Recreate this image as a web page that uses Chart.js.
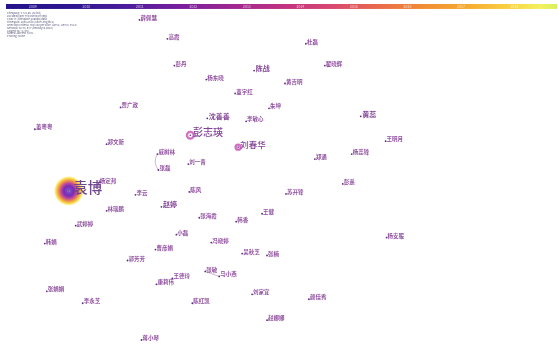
<!DOCTYPE html>
<html>
<head>
<meta charset="utf-8">
<script src="https://cdn.jsdelivr.net/npm/chart.js@4/dist/chart.umd.min.js"></script>
<style>
  html, body { margin: 0; padding: 0; background: #ffffff; }
  #wrap { width: 558px; height: 345px; position: relative; }
  canvas { display: block; }
</style>
</head>
<body>
<div id="wrap"><canvas id="net" width="558" height="345"></canvas></div>
<script>
// Co-authorship network: author names, layout positions and publication counts
const authors = ['薛佩慧','高霞','杜磊','彭丹','陈战','翟晓辉','杨东晓','黄吉明','董宇红','朱坤',
  '贾广政','沈善善','李敏心','黄蕊','王明月','董粤粤','彭志瑛','刘春华','郑文新','戚树林',
  '刘一青','郑通','杨蕊锋','张磊','袁博','杨定邦','陈风','苏开锋','彭遥','李云',
  '赵婷','林瑞鹏','王健','张海霞','韩香','武婷婷','杨安服','冯晓婷','小磊','曹彦娟',
  '吴秋芝','张楠','韩娟','郭芳芳','张敏','马小燕','王德玲','康莉伟','刘家宜','颜佳秀',
  '张娟娟','李永芝','陈红凯','赵娜娜','蒋小琴'];
const posX = [139,167,306,174,254,325,206,285,235,269,
  120,207,246,361,386,34,190,238,106,157,
  188,315,352,158,68,98,189,286,343,135,
  161,106,262,199,236,75,387,211,176,155,
  242,267,44,127,205,219,172,156,252,309,
  46,82,192,267,141];
const posY = [19,38,43,65,70,65,79,83,93,108,
  107,118,121,116,141,129,135,147,144,154,
  164,159,154,170,191,183,192,194,184,195,
  207,211,214,218,222,226,238,243,235,250,
  254,256,244,261,272,277,279,285,295,300,
  292,304,304,321,341];
const counts = [1,1,1,1,2,1,1,1,1,1,
  1,2,1,2,1,1,4,3,1,1,
  1,1,1,1,7,1,1,1,1,1,
  2,1,1,1,1,1,1,1,1,1,
  1,1,1,1,1,1,1,1,1,1,
  1,1,1,1,1];

// Co-author links
const linkFrom = ['戚树林','王德玲','张敏'];
const linkTo   = ['张磊','康莉伟','马小燕'];
const linkStyle = ['arc','dotted','solid'];

// Time-slice legend
const years = ['2009','2010','2011','2012','2013','2014','2015','2016','2017','2018'];

// Run summary
const infoLines = [
  'CiteSpace, v. 5.5.R2 (32-bit)',
  '2019年5月9日 下午09时04分36秒',
  'CNKI: E:\\citespace\\yuanbo\\data',
  'Timespan: 2008-2019 (Slice Length=1)',
  'Selection Criteria: Top 100 per slice, LRF=2, LBY=8, e=2.0',
  'Network: N=78, E=7 (Density=0.0023)',
  'Largest CC: 3 (3%)',
  'Nodes Labeled: 5.0%',
  'Pruning: None'
];

const FONT = '"Noto Sans CJK SC", "Noto Sans", sans-serif';
const labelSize = c => 4 + 1.5 * c;

const points = authors.map((a, i) => ({ x: posX[i], y: posY[i] }));
const idx = name => authors.indexOf(name);

const networkPlugin = {
  id: 'network',
  beforeDatasetsDraw(chart) {
    const ctx = chart.ctx;
    const sx = chart.scales.x, sy = chart.scales.y;

    // colour legend bar across the top
    const x0 = sx.getPixelForValue(5), x1 = sx.getPixelForValue(558);
    const yb0 = sy.getPixelForValue(3), yb1 = sy.getPixelForValue(8);
    const g = ctx.createLinearGradient(x0, 0, x1, 0);
    g.addColorStop(0.00, '#24148a');
    g.addColorStop(0.12, '#2e1690');
    g.addColorStop(0.22, '#4c1c9c');
    g.addColorStop(0.32, '#7a1f9e');
    g.addColorStop(0.42, '#a2288f');
    g.addColorStop(0.51, '#c23480');
    g.addColorStop(0.59, '#d84870');
    g.addColorStop(0.67, '#e8684e');
    g.addColorStop(0.75, '#f08a36');
    g.addColorStop(0.84, '#f6ac30');
    g.addColorStop(0.92, '#f8d644');
    g.addColorStop(0.97, '#f4f060');
    g.addColorStop(1.00, '#d6f25a');
    ctx.save();
    ctx.fillStyle = g;
    ctx.fillRect(x0, yb0, x1 - x0, yb1 - yb0);
    ctx.font = '3.5px ' + FONT;
    ctx.fillStyle = 'rgba(255,255,255,0.7)';
    ctx.textAlign = 'center';
    ctx.textBaseline = 'middle';
    years.forEach((yr, i) => {
      ctx.fillText(yr, sx.getPixelForValue(32 + i * 53.7), (yb0 + yb1) / 2);
    });

    // run summary text
    ctx.textAlign = 'left';
    ctx.textBaseline = 'middle';
    ctx.fillStyle = '#55557a';
    ctx.font = '2.7px ' + FONT;
    infoLines.forEach((t, i) => {
      ctx.fillText(t, sx.getPixelForValue(6), sy.getPixelForValue(12 + i * 2.95));
    });

    // links
    ctx.strokeStyle = '#c9a3c9';
    ctx.lineWidth = 0.8;
    linkFrom.forEach((f, k) => {
      const a = idx(f), b = idx(linkTo[k]);
      const ax = sx.getPixelForValue(posX[a]), ay = sy.getPixelForValue(posY[a]);
      const bx = sx.getPixelForValue(posX[b]), by = sy.getPixelForValue(posY[b]);
      ctx.beginPath();
      if (linkStyle[k] === 'dotted') ctx.setLineDash([1, 1]); else ctx.setLineDash([]);
      ctx.moveTo(ax, ay);
      if (linkStyle[k] === 'arc') {
        ctx.quadraticCurveTo(Math.min(ax, bx) - 5, (ay + by) / 2, bx, by);
      } else {
        ctx.lineTo(bx, by);
      }
      ctx.stroke();
    });
    ctx.setLineDash([]);

    // halo for the most productive author, rings for the next ones
    authors.forEach((a, i) => {
      const px = sx.getPixelForValue(posX[i]), py = sy.getPixelForValue(posY[i]);
      if (counts[i] >= 5) {
        const r = 15;
        const rg = ctx.createRadialGradient(px, py, 0, px, py, r);
        rg.addColorStop(0.00, '#ffffff');
        rg.addColorStop(0.10, '#7a4cc8');
        rg.addColorStop(0.33, '#7a2ab4');
        rg.addColorStop(0.52, '#c04a9c');
        rg.addColorStop(0.67, '#ec8a50');
        rg.addColorStop(0.80, '#f8c640');
        rg.addColorStop(0.91, 'rgba(250,232,90,0.75)');
        rg.addColorStop(1.00, 'rgba(255,250,170,0)');
        ctx.fillStyle = rg;
        ctx.beginPath();
        ctx.arc(px, py, r, 0, Math.PI * 2);
        ctx.fill();
      } else if (counts[i] >= 3) {
        const r = counts[i] >= 4 ? 3.6 : 2.8;
        ctx.strokeStyle = '#d46cc4';
        ctx.lineWidth = 1.8;
        ctx.beginPath();
        ctx.arc(px, py, r, 0, Math.PI * 2);
        ctx.stroke();
        ctx.strokeStyle = '#b04aa8';
        ctx.lineWidth = 0.6;
        ctx.beginPath();
        ctx.arc(px, py, r - 1, 0, Math.PI * 2);
        ctx.stroke();
      }
    });
    ctx.restore();
  },
  afterDatasetsDraw(chart) {
    const ctx = chart.ctx;
    const sx = chart.scales.x, sy = chart.scales.y;
    ctx.save();
    ctx.textAlign = 'left';
    ctx.textBaseline = 'middle';
    authors.forEach((a, i) => {
      const s = labelSize(counts[i]);
      const px = sx.getPixelForValue(posX[i]), py = sy.getPixelForValue(posY[i]);
      ctx.font = (counts[i] >= 3 ? '500 ' : 'bold ') + s + 'px ' + FONT;
      ctx.fillStyle = counts[i] >= 5 ? '#70468e' : (counts[i] >= 2 ? '#824496' : '#9150a0');
      ctx.fillText(a, px + 1 + 0.4 * (s - 5.5), py - 2 - 0.2 * (s - 5.5));
    });
    ctx.restore();
  }
};

new Chart(document.getElementById('net'), {
  type: 'scatter',
  data: {
    datasets: [{
      data: points,
      pointRadius: ctx => (counts[ctx.dataIndex] >= 3 ? 0.8 : 0.9),
      pointBackgroundColor: '#5a2a80',
      pointBorderWidth: 0,
      pointHoverRadius: 1
    }]
  },
  options: {
    responsive: false,
    devicePixelRatio: 1,
    animation: false,
    layout: { padding: 0 },
    events: [],
    plugins: { legend: { display: false }, tooltip: { enabled: false } },
    scales: {
      x: { type: 'linear', min: 0, max: 558, display: false },
      y: { type: 'linear', min: 0, max: 345, reverse: true, display: false }
    }
  },
  plugins: [networkPlugin]
});
</script>
</body>
</html>
